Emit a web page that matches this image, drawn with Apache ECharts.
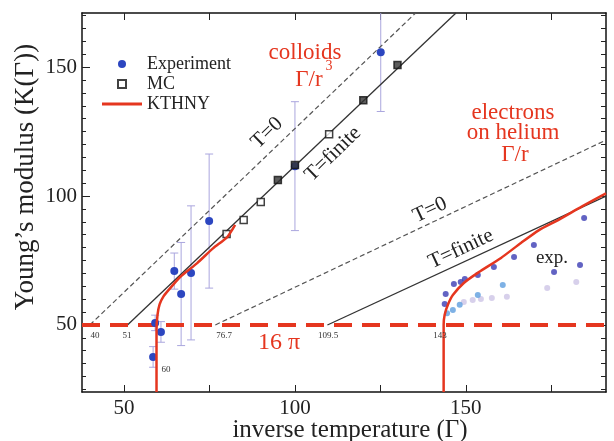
<!DOCTYPE html>
<html>
<head>
<meta charset="utf-8">
<script src="https://cdn.jsdelivr.net/npm/echarts@6/dist/echarts.min.js"></script>
<style>
html, body { margin: 0; padding: 0; background: #fff; }
#main { width: 614px; height: 441px; }
</style>
</head>
<body>
<div id="main"></div>
<script>
// colloids: experiment [Γ, K, error]
var colloidExp = [[58.5, 37.6, 4], [59.1, 50.8, 3], [60.8, 47.3, 4], [64.7, 70.9, 7], [66.7, 62.0, 20],
    [69.6, 70.2, 26], [74.9, 90.3, 26], [100, 111.6, 25], [125.1, 155.8, 23]];
// colloids: Monte Carlo
var mcOpen = [[80, 85.3], [85, 90.7], [90, 97.7], [110, 124.0]];
var mcFilled = [[95, 106.2], [100, 112.0], [120, 137.2], [130, 150.8]];
var colloidT0 = [[40, 50], [135.3, 171]];
var colloidTfin = [[51, 50], [147.1, 171]];
var colloidKthny = [[59.5, 24], [59.5, 48], [59.8, 54], [60.4, 58], [61.5, 61], [63, 63.5], [66.4, 68.6],
    [71.4, 74], [76.1, 79.8], [80.2, 84.1], [82.5, 88.8]];
// electrons on helium
var heT0 = [[76.7, 50], [191, 121.7]];
var heTfin = [[109.5, 50], [191, 100]];
var heKthny = [[143.5, 24], [143.5, 50], [143.8, 54], [144.8, 58], [146.2, 61.6], [149.4, 66.3], [153.8, 70.5],
    [160.3, 76], [166.1, 81.8], [171.4, 86.8], [177, 90.7], [184, 96], [191, 101]];
var heExp = [[143.8, 58.1], [144.1, 62.0], [146.5, 65.9], [148.5, 66.7], [149.7, 67.8], [153.5, 69.4],
    [158.2, 72.5], [164.1, 76.4], [169.9, 81.0], [175.8, 70.5], [183.4, 73.3], [184.6, 91.5]];
var heExpMid = [[144.5, 54.5], [146.2, 55.8], [148.2, 57.8], [153.5, 61.6], [160.8, 65.5]];
var heExpPale = [[149.4, 58.9], [152, 59.7], [154.4, 60.1], [157.6, 60.5], [162, 60.9], [173.8, 64.3], [182.3, 66.7]];

var xTicks = [50, 75, 100, 125, 150, 175];
var xLabels = [50, 100, 150];
var yMinorTicks = [25, 30, 35, 40, 45, 55, 60, 65, 70, 75, 80, 85, 90, 95, 105, 110, 115, 120, 125, 130, 135, 140, 145, 155, 160, 165, 170];
var yLabels = [50, 100, 150];
var sixteenPi = 16 * Math.PI;

var FONT = '"Liberation Serif", "DejaVu Serif", serif';
var RED = '#e5361f';

var chart = echarts.init(document.getElementById('main'));

function xAx(pos, ticks, len, labels) {
    return {
        type: 'value', position: pos, min: 37.7, max: 191,
        axisLine: { show: true, onZero: false, lineStyle: { color: '#111', width: 1.5 } },
        axisTick: { show: true, inside: true, length: len, customValues: ticks, lineStyle: { color: '#222', width: 1 } },
        axisLabel: labels ? { customValues: labels, margin: 6, color: '#222', fontFamily: FONT, fontSize: 21 } : { show: false },
        splitLine: { show: false }
    };
}
function yAx(pos, ticks, len, labels, line) {
    return {
        type: 'value', position: pos, min: 24, max: 171,
        axisLine: { show: line, onZero: false, lineStyle: { color: '#111', width: 1.5 } },
        axisTick: { show: true, inside: true, length: len, customValues: ticks, lineStyle: { color: '#222', width: 1 } },
        axisLabel: labels ? { customValues: labels, margin: 5, color: '#222', fontFamily: FONT, fontSize: 21 } : { show: false },
        splitLine: { show: false }
    };
}

function errorBars(params, api) {
    var x = api.value(0), y = api.value(1), e = api.value(2);
    var top = api.coord([x, y + e]);
    var bot = api.coord([x, y - e]);
    var st = { stroke: '#aaa6de', lineWidth: 1 };
    return {
        type: 'group',
        children: [
            { type: 'line', shape: { x1: top[0], y1: top[1], x2: bot[0], y2: bot[1] }, style: st },
            { type: 'line', shape: { x1: top[0] - 4, y1: top[1], x2: top[0] + 4, y2: top[1] }, style: st },
            { type: 'line', shape: { x1: bot[0] - 4, y1: bot[1], x2: bot[0] + 4, y2: bot[1] }, style: st }
        ]
    };
}

function straight(data, dashed) {
    return {
        type: 'line', data: data, symbol: 'none', silent: true, z: 2,
        lineStyle: { color: dashed ? '#555' : '#333', width: dashed ? 1.2 : 1.3, type: dashed ? [5, 3] : 'solid' }
    };
}

function txt(text, x, y, size, color, rotDeg) {
    return {
        type: 'text', x: x, y: y, rotation: (rotDeg || 0) * Math.PI / 180, z: 20,
        style: { text: text, fill: color, font: size + 'px ' + FONT, align: 'center', verticalAlign: 'middle' }
    };
}

var option = {
    animation: false,
    backgroundColor: '#fff',
    grid: { left: 82, right: 8, top: 13, bottom: 49, containLabel: false },
    legend: {
        data: [
            { name: 'Experiment', icon: 'circle' },
            { name: 'MC', icon: 'path://M0,0L10,0L10,10L0,10Z' },
            { name: 'KTHNY', icon: 'path://M0,0L40,0L40,3L0,3Z' }
        ],
        orient: 'vertical', left: 102, top: 55, padding: 0,
        itemWidth: 40, itemHeight: 8, itemGap: 2, symbolKeepAspect: true,
        textStyle: { fontFamily: FONT, fontSize: 18, color: '#222', lineHeight: 18 },
        selectedMode: false
    },
    xAxis: [
        xAx('bottom', xTicks, 7, xLabels),
        xAx('top', xTicks, 7, null)
    ],
    yAxis: [
        yAx('left', yLabels, 8, yLabels, true),
        yAx('left', yMinorTicks, 4, null, false),
        yAx('right', yLabels.concat(yMinorTicks), 5, null, true)
    ],
    series: [
        straight(colloidT0, true),
        straight(colloidTfin, false),
        straight(heT0, true),
        straight(heTfin, false),
        {
            type: 'line', data: [], silent: true, z: 3,
            markLine: {
                silent: true, symbol: 'none', label: { show: false },
                lineStyle: { color: RED, width: 4, type: [18, 10] },
                data: [{ yAxis: sixteenPi }]
            }
        },
        { type: 'custom', data: colloidExp, renderItem: errorBars, clip: true, z: 1, silent: true },
        {
            name: 'Experiment', type: 'scatter', data: colloidExp, symbolSize: 8, z: 5,
            itemStyle: { color: '#2c46c0', opacity: 1 }
        },
        { type: 'scatter', data: heExpPale, symbolSize: 6, z: 4, itemStyle: { color: '#cdc4e6' } },
        { type: 'scatter', data: heExpMid, symbolSize: 6, z: 4, itemStyle: { color: '#5e9ede' } },
        { type: 'scatter', data: heExp, symbolSize: 6, z: 4, itemStyle: { color: '#3b3cb4' } },
        {
            name: 'MC', type: 'scatter', data: mcOpen, symbol: 'rect', symbolSize: 7, z: 6,
            itemStyle: { color: '#fff', borderColor: '#111', borderWidth: 1.5 }
        },
        {
            name: 'MC', type: 'scatter', data: mcFilled, symbol: 'rect', symbolSize: 7, z: 6,
            itemStyle: { color: '#333', borderColor: '#111', borderWidth: 1.5 }
        },
        {
            name: 'KTHNY', type: 'line', data: colloidKthny, symbol: 'none', smooth: 0.2, z: 7,
            lineStyle: { color: RED, width: 2.5 }, itemStyle: { color: RED }
        },
        {
            type: 'line', data: heKthny, symbol: 'none', smooth: 0.2, z: 7,
            lineStyle: { color: RED, width: 2.5 }
        }
    ],
    graphic: [
        txt('inverse temperature (\u0393)', 350, 430, 25, '#222', 0),
        txt('Young\u2019s modulus (K(\u0393))', 26, 177, 27, '#222', 90),
        txt('colloids', 305, 53, 23, RED, 0),
        txt('\u0393/r', 309, 80, 23, RED, 0),
        txt('3', 329, 66, 14, RED, 0),
        txt('electrons', 513, 113, 23, RED, 0),
        txt('on helium', 513, 133, 23, RED, 0),
        txt('\u0393/r', 515, 155, 23, RED, 0),
        txt('16 \u03c0', 279, 343, 24, RED, 0),
        txt('T=0', 267, 133, 21, '#222', 44),
        txt('T=finite', 333, 154, 21, '#222', 44),
        txt('T=0', 430, 210, 21, '#222', 25),
        txt('T=finite', 461, 249, 21, '#222', 25),
        txt('exp.', 552, 258, 19, '#222', 0),
        txt('40', 95, 336, 9, '#333', 0),
        txt('51', 127, 336, 9, '#333', 0),
        txt('76.7', 224, 336, 9, '#333', 0),
        txt('109.5', 328, 336, 9, '#333', 0),
        txt('143', 440, 336, 9, '#333', 0),
        txt('60', 166, 370, 9, '#333', 0)
    ]
};
option && chart.setOption(option);
</script>
</body>
</html>
